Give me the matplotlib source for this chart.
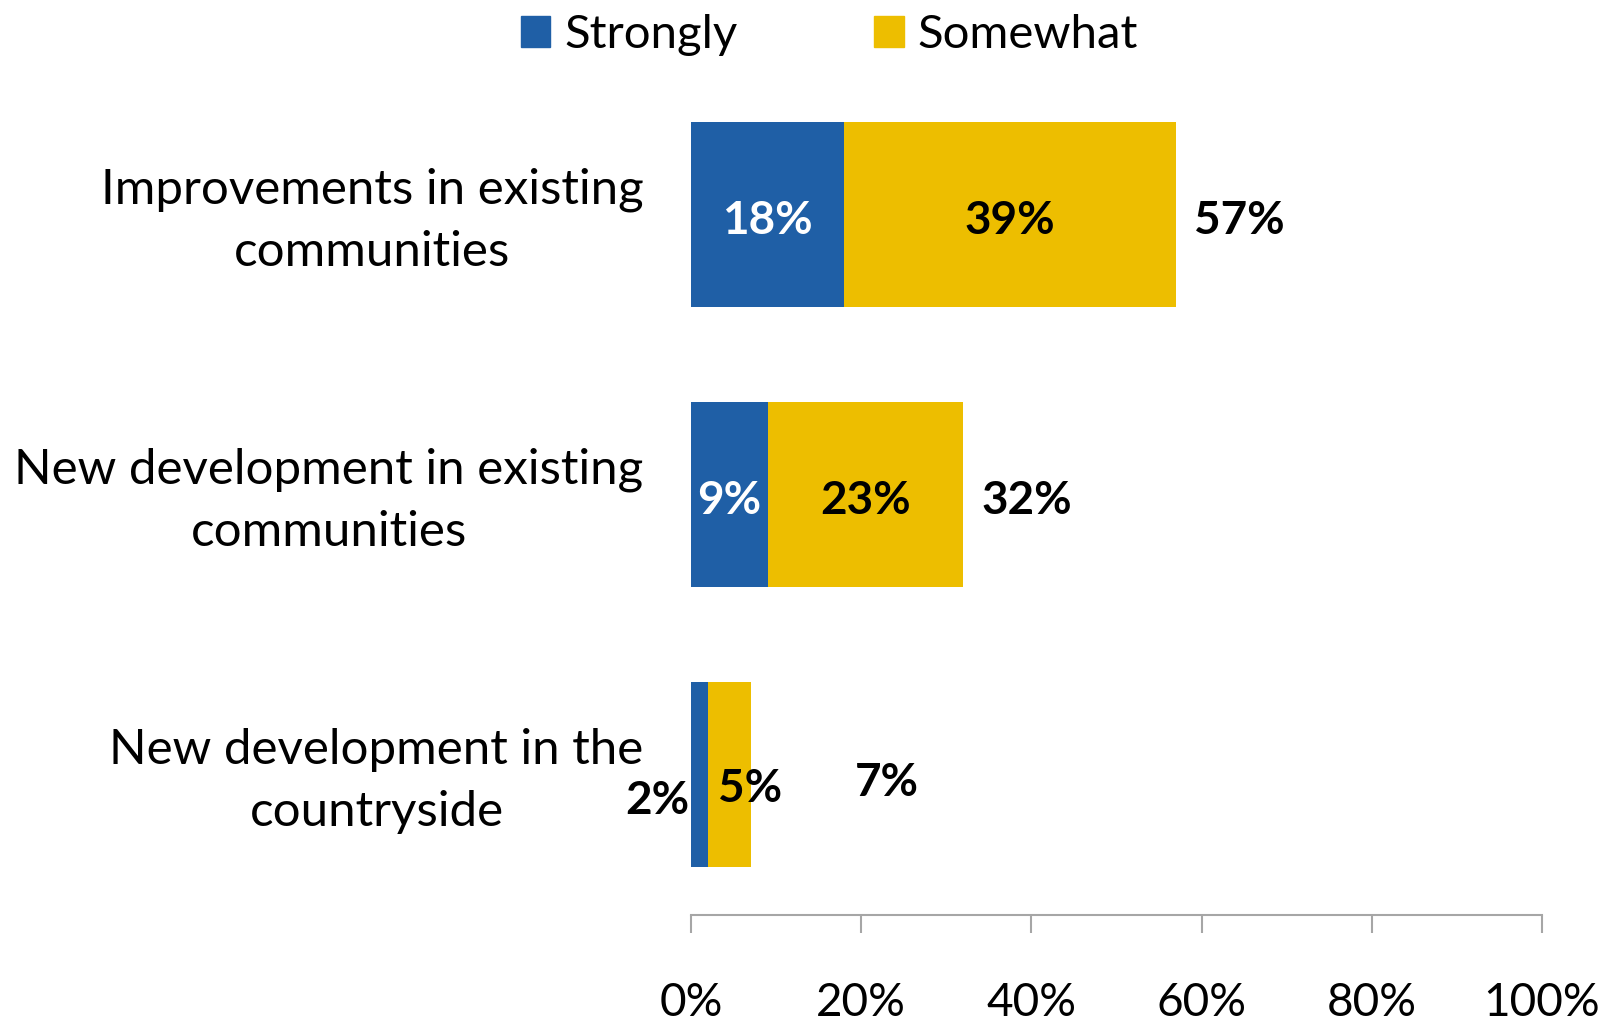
import numpy as np
from matplotlib import pyplot as plt
from matplotlib.patches import Patch
from matplotlib.transforms import ScaledTranslation

# Support by type of development
categories = ['Improvements in existing\ncommunities',
              'New development in existing\ncommunities',
              'New development in the\ncountryside']
strongly = [18, 9, 2]
somewhat = [39, 23, 5]
xticks = [0, 20, 40, 60, 80, 100]

blue = '#1F5FA6'
gold = '#EDBE00'

plt.rcParams['font.family'] = ['Lato', 'DejaVu Sans']

fig = plt.figure(figsize=(16.17, 10.24), dpi=100)
ax = fig.add_axes([0.4273, 0.1064, 0.5263, 0.8213])

y = np.arange(len(categories))
strongly = np.array(strongly)
somewhat = np.array(somewhat)
totals = strongly + somewhat

ax.barh(y, strongly, height=0.66, color=blue)
ax.barh(y, somewhat, left=strongly, height=0.66, color=gold)

ax.set_xlim(0, 100)
ax.set_ylim(2.5, -0.5)
ax.set_xticks(xticks)
ax.set_xticklabels(['%d%%' % t for t in xticks], fontsize=33)
ax.set_yticks([])
ax.tick_params(axis='x', direction='out', length=13, width=1.5,
               color='#A6A6A6', pad=35)
for s in ['top', 'right', 'left']:
    ax.spines[s].set_visible(False)
ax.spines['bottom'].set_color('#A6A6A6')
ax.spines['bottom'].set_linewidth(1.5)

# category names to the left of the bars
cat_tr = ax.get_yaxis_transform() + ScaledTranslation(-34 / 72, -4.5 / 72,
                                                      fig.dpi_scale_trans)
for i, c in enumerate(categories):
    ax.text(0, y[i], c, transform=cat_tr, ha='right', va='center',
            multialignment='center', linespacing=1.5, fontsize=35.5)

lab = dict(fontsize=33, fontweight='bold', va='center',
           textcoords='offset points', annotation_clip=False)
for i in range(len(categories)):
    if strongly[i] >= 5:
        ax.annotate('%d%%' % strongly[i], (strongly[i] / 2, y[i]), xytext=(0, -5),
                    color='white', ha='center', **lab)
        ax.annotate('%d%%' % somewhat[i], (strongly[i] + somewhat[i] / 2, y[i]),
                    xytext=(0, -5), color='black', ha='center', **lab)
        ax.annotate('%d%%' % totals[i], (totals[i], y[i]), xytext=(13, -5),
                    ha='left', color='black', **lab)
    else:
        # small bar: labels moved off the segments
        ax.annotate('%d%%' % strongly[i], (0, y[i]), xytext=(-1, -19),
                    ha='right', color='black', **lab)
        ax.annotate('%d%%' % somewhat[i], (totals[i], y[i]), xytext=(0, -10),
                    ha='center', color='black', **lab)
        ax.annotate('%d%%' % totals[i], (totals[i], y[i]), xytext=(98, -6),
                    ha='center', color='black', **lab)

handles = [Patch(color=blue, label='Strongly'), Patch(color=gold, label='Somewhat')]
fig.legend(handles=handles, loc='upper center', bbox_to_anchor=(0.513, 1.028),
           ncol=2, frameon=False, fontsize=34, handlelength=0.62,
           handleheight=0.62, handletextpad=0.3, columnspacing=2.9)

plt.savefig('out.png', dpi=100)
